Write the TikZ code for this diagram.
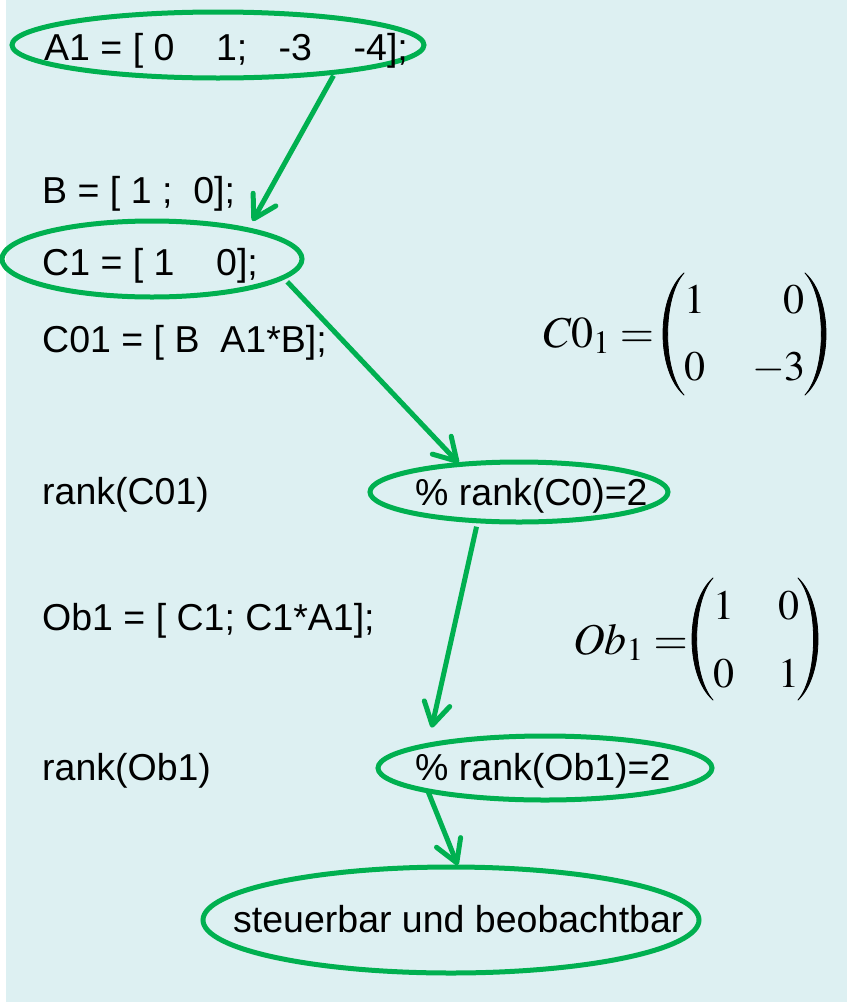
\documentclass[tikz,border=0pt]{standalone}
\usepackage{mathptmx}
\usepackage[no-math]{fontspec}
\setmainfont{Liberation Sans}
\usetikzlibrary{shapes.geometric,arrows.meta}
\definecolor{bgcyan}{RGB}{221,240,242}
\definecolor{mkgreen}{RGB}{0,176,80}
% a stretched round bracket: #1 x of the tips, #2 x of the bulge, #3 top y, #4 bottom y
\newcommand{\roundbracket}[4]{%
  \filldraw[line width=0.8pt, line join=round]
    (#1,#3) .. controls ({#1+(#2-#1)*4/3},{#3+(#4-#3)*0.2}) and ({#1+(#2-#1)*4/3},{#3+(#4-#3)*0.8}) .. (#1,#4)
    .. controls ({#1+(#2-#1)*0.78*4/3},{#3+(#4-#3)*0.8}) and ({#1+(#2-#1)*0.78*4/3},{#3+(#4-#3)*0.2}) .. cycle;}
\begin{document}
\begin{tikzpicture}[x=1pt,y=-1pt,
  code/.style={anchor=base west, inner sep=0pt, font=\fontsize{37.5}{45}\selectfont},
  ring/.style={ellipse, draw=mkgreen, line width=5pt, inner sep=0pt, outer sep=0pt},
  link/.style={draw=mkgreen, line width=5pt, -{Straight Barb[length=22pt,width=26pt,round]}},
  lhs/.style={anchor=base west, inner sep=0pt, font=\fontsize{44}{50}\selectfont},
  entry/.style={anchor=base, inner sep=0pt, font=\fontsize{42}{46}\selectfont}]
% canvas
\fill[white] (0,0) rectangle (847,1002);
\fill[bgcyan] (6,0) rectangle (847,1002);
\useasboundingbox (0,0) rectangle (847,1002);

% highlighted lines
\node[ring, minimum width=412pt, minimum height=66pt] (e1) at (218,45) {};
\node[ring, minimum width=300pt, minimum height=76pt] (e2) at (152,259) {};
\node[ring, minimum width=298pt, minimum height=60pt] (e3) at (519,492) {};
\node[ring, minimum width=334pt, minimum height=64pt] (e4) at (545,768) {};
\node[ring, minimum width=496pt, minimum height=106pt] (e5) at (451,920) {};

% code lines
\node[code] (ta)   at (44,60)   {A1 = [ 0\ \ \ \ 1;\ \ \ -3\ \ \ \ -4];};
\node[code] (tb)   at (42,203)  {B = [ 1 ;\ \ 0];};
\node[code] (tc)   at (42,275)  {C1 = [ 1\ \ \ \ 0];};
\node[code] (tc0)  at (42,352)  {C01 = [ B\ \ A1*B];};
\node[code] (tr1)  at (42,504)  {rank(C01)};
\node[code] (tr1c) at (415,505) {\% rank(C0)=2};
\node[code] (to)   at (42,630)  {Ob1 = [ C1; C1*A1];};
\node[code] (tr2)  at (42,780)  {rank(Ob1)};
\node[code] (tr2c) at (415,780) {\% rank(Ob1)=2};
\node[code] (ts)   at (233,932) {steuerbar und beobachtbar};

% controllability matrix
\node[lhs] (c0name) at (543,347) {$C0_1 =$};
\node[entry] (c0a) at (695,313) {$1$};
\node[entry] (c0b) at (794,313) {$0$};
\node[entry] (c0c) at (695,380) {$0$};
\node[entry, anchor=base east] (c0d) at (806,380) {$-3$};
\roundbracket{684}{663}{273}{395}
\roundbracket{805}{826}{273}{395}

% observability matrix
\node[lhs] (obname) at (573,654) {$Ob_1 =$};
\node[entry] (oba) at (724,619) {$1$};
\node[entry] (obb) at (789,619) {$0$};
\node[entry] (obc) at (724,687) {$0$};
\node[entry] (obd) at (789,687) {$1$};
\roundbracket{713}{692}{578}{700}
\roundbracket{798}{818}{578}{700}

% flow
\draw[link, shorten <=4pt, shorten >=10pt] (e1.-13.8) -- (e2.17.7);
\draw[link, shorten <=6pt, shorten >=2pt] (e2.-8) -- (e3.155.7);
\draw[link, shorten <=6pt, shorten >=18pt] (e3.215.1) -- (e4.169.3);
\draw[link, shorten >=2pt] (e4.191.3) -- (e5.82.7);
\end{tikzpicture}
\end{document}
